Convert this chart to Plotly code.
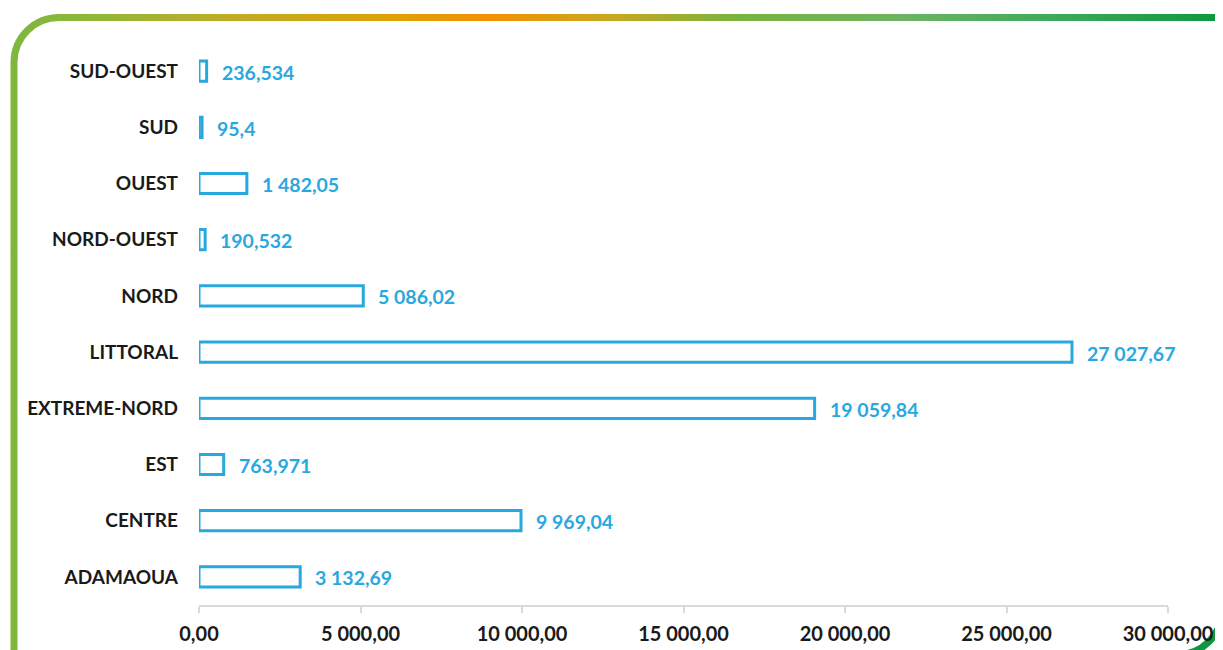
import base64
import plotly.graph_objects as go

# ---- data ----
regions = ["ADAMAOUA", "CENTRE", "EST", "EXTREME-NORD", "LITTORAL",
           "NORD", "NORD-OUEST", "OUEST", "SUD", "SUD-OUEST"]
values = [3132.69, 9969.04, 763.971, 19059.84, 27027.67,
          5086.02, 190.532, 1482.05, 95.4, 236.534]
value_labels = ["3 132,69", "9 969,04", "763,971", "19 059,84", "27 027,67",
                "5 086,02", "190,532", "1 482,05", "95,4", "236,534"]
tick_values = [0, 5000, 10000, 15000, 20000, 25000, 30000]
tick_labels = ["0,00", "5 000,00", "10 000,00", "15 000,00",
               "20 000,00", "25 000,00", "30 000,00"]

W, H = 1223, 650
OFF = 8  # default page body margin
ML, MT = 199 - OFF, 43 - OFF
PW, PH = 969, 562
MR, MB = W - ML - PW, H - MT - PH

BLUE = "#29a8e0"
FONT = "Lato"

fig = go.Figure()
fig.add_trace(go.Bar(
    y=regions, x=values, orientation="h",
    marker=dict(color="white", line=dict(color=BLUE, width=3)),
    hoverinfo="x+y",
))

for r, v, t in zip(regions, values, value_labels):
    fig.add_annotation(x=v, y=r, text="<b>%s</b>" % t, showarrow=False,
                       xanchor="left", xshift=13, yshift=-1,
                       font=dict(family=FONT, size=19.5, color=BLUE))

# decorative frame as SVG image (coordinates in figure pixels)
def sx(v):
    return v - OFF

svg = f'''<svg xmlns="http://www.w3.org/2000/svg" width="{W}" height="{H}" viewBox="0 0 {W} {H}">
<defs><linearGradient id="g" gradientUnits="userSpaceOnUse" x1="{sx(0)}" y1="0" x2="{sx(1223)}" y2="0">
<stop offset="0" stop-color="#7cb63e"/>
<stop offset="0.06" stop-color="#8ab83a"/>
<stop offset="0.18" stop-color="#bcae28"/>
<stop offset="0.33" stop-color="#e0a000"/>
<stop offset="0.40" stop-color="#f39200"/>
<stop offset="0.50" stop-color="#c8a820"/>
<stop offset="0.60" stop-color="#7ab33e"/>
<stop offset="0.74" stop-color="#6bb462"/>
<stop offset="0.86" stop-color="#3fa95c"/>
<stop offset="1" stop-color="#0f9640"/>
</linearGradient></defs>
<path d="M {sx(14)} {H+5} L {sx(14)} {sx(62)} A 45 45 0 0 1 {sx(59)} {sx(17.5)} L {W+5} {sx(17.5)}" fill="none" stroke="url(#g)" stroke-width="7"/>
<path d="M {sx(1222)} {sx(560)} L {sx(1222)} {sx(610)} A 45 45 0 0 1 {sx(1177)} {sx(655)}" fill="none" stroke="#0f9640" stroke-width="7"/>
</svg>'''
src = "data:image/svg+xml;base64," + base64.b64encode(svg.encode()).decode()
fig.add_layout_image(dict(source=src, xref="paper", yref="paper",
                          x=-ML / PW, y=1 + MT / PH, sizex=W / PW, sizey=H / PH,
                          xanchor="left", yanchor="top", sizing="stretch",
                          layer="below"))

fig.update_layout(
    width=W, height=H,
    margin=dict(l=ML, r=MR, t=MT, b=MB, pad=0),
    paper_bgcolor="white", plot_bgcolor="white",
    bargap=0.64, showlegend=False,
    font=dict(family=FONT, color="#1a1a1a"),
    xaxis=dict(range=[0, 30000], tickvals=tick_values,
               ticktext=["<b>%s</b>" % t for t in tick_labels],
               showgrid=False, zeroline=False,
               showline=True, linecolor="#d9d9d9", linewidth=1.5,
               ticks="outside", ticklen=6, tickcolor="#d9d9d9", tickwidth=1.5,
               ticklabelstandoff=4,
               tickfont=dict(family=FONT, size=20, color="#1a1a1a")),
    yaxis=dict(categoryorder="array", categoryarray=regions,
               showgrid=False, zeroline=False, showline=False,
               ticks="", ticklabelstandoff=20,
               tickvals=regions, ticktext=["<b>%s</b>" % r for r in regions],
               tickfont=dict(family=FONT, size=19, color="#1a1a1a")),
)

fig.write_html("out.html", config={"displayModeBar": False})
